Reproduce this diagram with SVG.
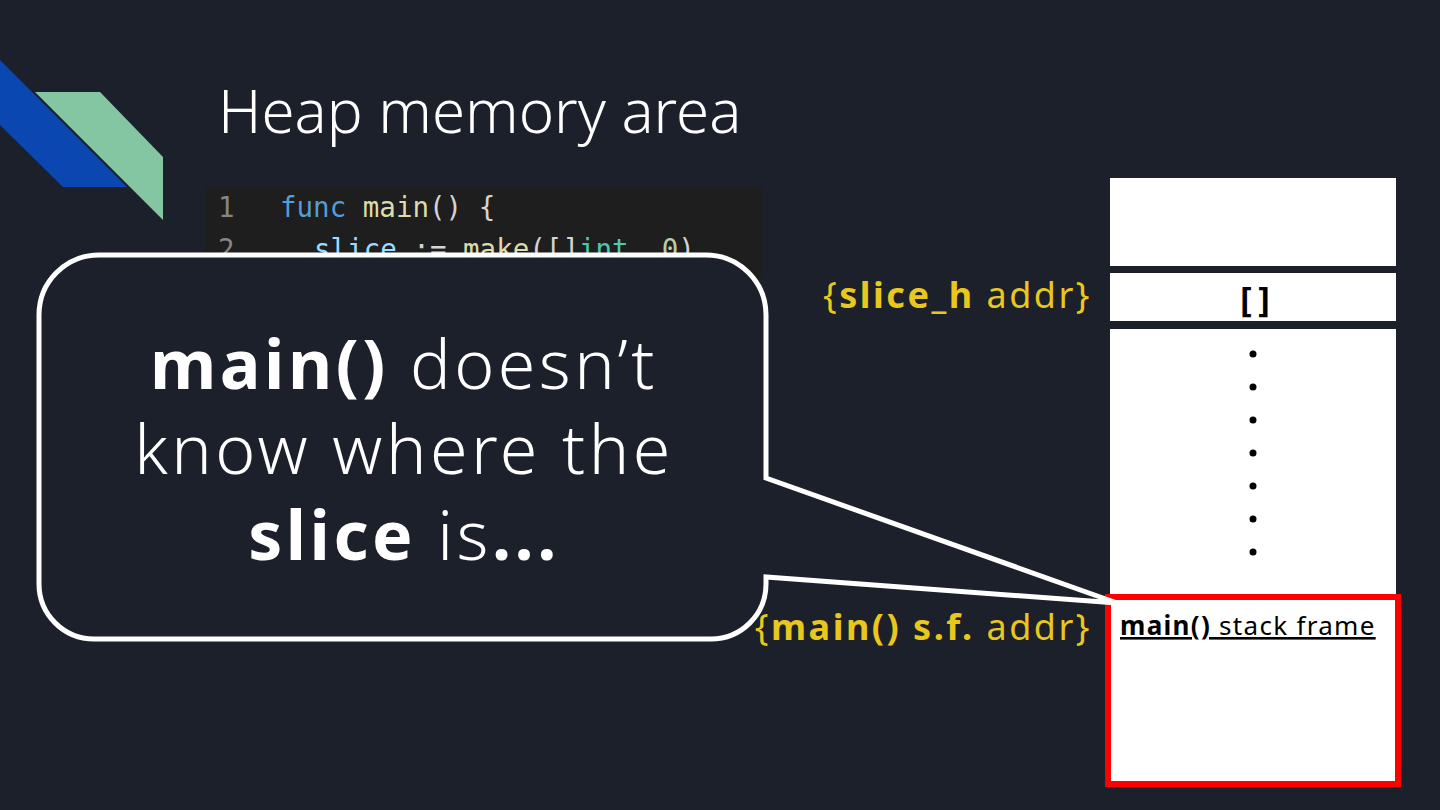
<svg xmlns="http://www.w3.org/2000/svg" width="1440" height="810" viewBox="0 0 1440 810">
  <style>
    .bg { fill: #1c202b; }
    .cell { fill: #ffffff; }
    .code { font-family: "DejaVu Sans Mono", "Liberation Mono", monospace; font-size: 27.5px; }
    .lbl { font-family: "Noto Sans", "Open Sans", sans-serif; font-size: 36px; fill: #e8c81e; letter-spacing: 2.5px; }
    .big { font-family: "Noto Sans", "Open Sans", sans-serif; font-size: 68px; font-weight: 300; fill: #ffffff; text-anchor: middle; letter-spacing: 3.5px; }
    .b { font-weight: bold; }
    .dot { fill: #000000; }
  </style>
  <rect class="bg" x="0" y="0" width="1440" height="810"/>

  <g id="decor">
    <polygon points="0,60 127,187 63,187 0,125" fill="#0a47b0"/>
    <polygon points="35,92 100,92 163,157 163,220" fill="#84c6a2"/>
  </g>

  <g id="title">
    <text x="218" y="133" font-family="Noto Sans, Open Sans, sans-serif" font-size="60" font-weight="300" fill="#ffffff">Heap memory area</text>
  </g>

  <g id="code">
    <rect x="205" y="187" width="557" height="90" fill="#1e1e1e"/>
    <text class="code" x="218" y="217" fill="#858585">1</text>
    <text class="code" x="280" y="217"><tspan fill="#569cd6">func</tspan><tspan fill="#dcdcaa"> main</tspan><tspan fill="#d4d4d4">() {</tspan></text>
    <text class="code" x="218" y="259" fill="#858585">2</text>
    <text class="code" x="314" y="259"><tspan fill="#9cdcfe">slice</tspan><tspan fill="#d4d4d4"> := </tspan><tspan fill="#dcdcaa">make</tspan><tspan fill="#d4d4d4">([]</tspan><tspan fill="#4ec9b0">int</tspan><tspan fill="#d4d4d4">, </tspan><tspan fill="#b5cea8">0</tspan><tspan fill="#d4d4d4">)</tspan></text>
  </g>

  <g id="memory">
    <rect class="cell" x="1110" y="178" width="286" height="88"/>
    <g id="slice-cell">
      <rect class="cell" x="1110" y="273" width="286" height="48"/>
      <text x="1254" y="313" font-family="DejaVu Sans Mono, Liberation Mono, monospace" font-size="34" font-weight="bold" text-anchor="middle" fill="#000000" letter-spacing="-2">[]</text>
    </g>
    <g id="dots-cell">
      <rect class="cell" x="1110" y="329" width="286" height="268"/>
      <circle class="dot" cx="1253" cy="354" r="3.5"/>
      <circle class="dot" cx="1253" cy="387" r="3.5"/>
      <circle class="dot" cx="1253" cy="420" r="3.5"/>
      <circle class="dot" cx="1253" cy="453" r="3.5"/>
      <circle class="dot" cx="1253" cy="486" r="3.5"/>
      <circle class="dot" cx="1253" cy="519" r="3.5"/>
      <circle class="dot" cx="1253" cy="552" r="3.5"/>
    </g>
    <g id="main-frame">
      <rect x="1108" y="597" width="290" height="187" fill="#ffffff" stroke="#ff0000" stroke-width="6"/>
      <text x="1120" y="635" font-family="Noto Sans, Open Sans, sans-serif" font-size="26" fill="#000000" letter-spacing="1.3" text-decoration="underline"><tspan font-weight="bold">main()</tspan> stack frame</text>
    </g>
  </g>

  <g id="labels">
    <text class="lbl" x="1092" y="308" text-anchor="end">{<tspan class="b">slice_h</tspan> addr}</text>
    <text class="lbl" x="1092" y="640" text-anchor="end">{<tspan class="b">main() s.f.</tspan> addr}</text>
  </g>

  <g id="callout">
    <path d="M 99 255 H 706 A 60 60 0 0 1 766 315 V 478 L 1117 603 L 766 577 V 584 A 55 55 0 0 1 711 639 H 94 A 55 55 0 0 1 39 584 V 315 A 60 60 0 0 1 99 255 Z" fill="#1c202b" stroke="#ffffff" stroke-width="5" stroke-linejoin="miter"/>
    <text class="big" x="404" y="389"><tspan class="b">main()</tspan> doesn’t</text>
    <text class="big" x="404" y="474">know where the</text>
    <text class="big" x="404" y="560"><tspan class="b">slice</tspan> is<tspan class="b">...</tspan></text>
  </g>
</svg>
